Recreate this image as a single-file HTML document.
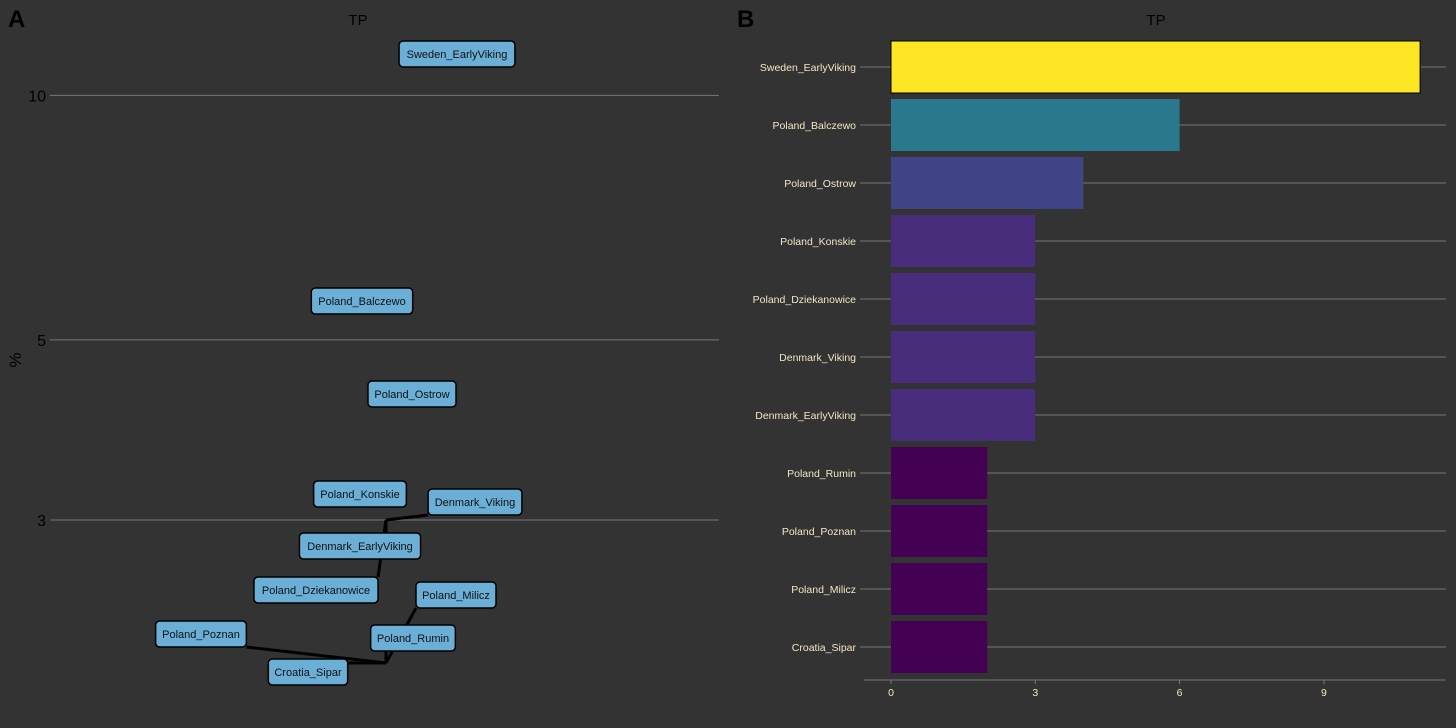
<!DOCTYPE html>
<html><head><meta charset="utf-8">
<style>
body{margin:0;background:#333333;}
svg{display:block;font-family:"Liberation Sans",sans-serif;}
</style></head>
<body>
<svg id="chart" width="1456" height="728" viewBox="0 0 1456 728">
<rect x="0" y="0" width="1456" height="728" fill="#333333"/>
<text x="8" y="27" font-size="24" font-weight="bold" fill="#000">A</text>
<text x="737" y="27" font-size="24" font-weight="bold" fill="#000">B</text>
<text x="358" y="25" font-size="15" text-anchor="middle" fill="#000">TP</text>
<text x="1156" y="25" font-size="15" text-anchor="middle" fill="#000">TP</text>
<text transform="translate(21,360) rotate(-90)" font-size="17" text-anchor="middle" fill="#000">%</text>
<g id="pa"></g>
<g id="pb"></g>
</svg>
<script>
const categories=["Sweden_EarlyViking","Poland_Balczewo","Poland_Ostrow","Poland_Konskie","Poland_Dziekanowice","Denmark_Viking","Denmark_EarlyViking","Poland_Rumin","Poland_Poznan","Poland_Milicz","Croatia_Sipar"];
const values=[11,6,4,3,3,3,3,2,2,2,2];
const aTicks=[3,5,10];
const bTicks=[0,3,6,9];
// label box centers from repel layout (panel A)
const labelCx=[457,362,412,360,316,475,360,413,201,456,308];
const labelCy=[54,301,394,494,590,502,546,638,634,595,672];
const showSeg=[0,0,0,0,1,1,1,1,1,1,1];

const NS="http://www.w3.org/2000/svg";
function mk(tag,attrs,parent){const e=document.createElementNS(NS,tag);for(const k in attrs)e.setAttribute(k,attrs[k]);parent.appendChild(e);return e;}
const pa=document.getElementById('pa'),pb=document.getElementById('pb');

const yA=v=>520-(Math.log10(v)-Math.log10(3))*812;
const pointX=386;
aTicks.forEach(t=>{
  const l=mk('line',{x1:50,x2:719,y1:yA(t),y2:yA(t),stroke:'#777','stroke-width':1},pa);
  
  
  const tx=mk('text',{x:46,y:yA(t)+6,'font-size':16,'text-anchor':'end',fill:'#000'},pa);
  tx.textContent=t;
  
  
});
const ctx=document.createElement('canvas').getContext('2d');ctx.font='12px "Liberation Sans"';
const boxes=categories.map((c,i)=>{const w=ctx.measureText(c).width+6;return {x:labelCx[i]-w/2,y:labelCy[i]-13,w:w,h:26};});
categories.forEach((c,i)=>{
  if(!showSeg[i])return;
  const py=yA(values[i]),b=boxes[i];
  const ex=Math.max(b.x,Math.min(pointX,b.x+b.w)),ey=Math.max(b.y,Math.min(py,b.y+b.h));
  const s=mk('line',{x1:pointX,y1:py,x2:ex,y2:ey,stroke:'#000','stroke-width':3},pa);
  
  
});
categories.forEach((c,i)=>{
  const b=boxes[i];
  const g=mk('g',{},pa);
  
  
  mk('rect',{x:b.x,y:b.y,width:b.w,height:b.h,rx:4,fill:'#6baed6',stroke:'#000','stroke-width':1.5},g);
  const t=mk('text',{x:labelCx[i],y:labelCy[i]+4,'font-size':11,'text-anchor':'middle',fill:'#111'},g);
  t.textContent=c;
});

const x0=891,pxPer=48.1;
const xB=v=>x0+v*pxPer;
const rowY=i=>67+i*58;
const vir=[[0,'#440154'],[0.11,'#472d7b'],[0.22,'#414487'],[0.44,'#2a788e'],[1,'#fde725']];
function col(v){const f=(v-2)/9;let best=vir[0][1],d=9;vir.forEach(s=>{if(Math.abs(s[0]-f)<d){d=Math.abs(s[0]-f);best=s[1];}});return best;}
categories.forEach((c,i)=>{
  const y=rowY(i);
  const gl=mk('line',{x1:860,x2:1446,y1:y,y2:y,stroke:'#777','stroke-width':1},pb);
  
  
  const r=mk('rect',{x:xB(0),y:y-26,width:xB(values[i])-xB(0),height:52,fill:col(values[i]),stroke:values[i]==11?'#000':'none','stroke-width':1},pb);
  
  
  const t=mk('text',{x:856,y:y+4,'font-size':10.5,'text-anchor':'end',fill:'#f3e6c4'},pb);
  t.textContent=c;
  
  
});
const ax=mk('line',{x1:864,x2:1446,y1:680,y2:680,stroke:'#777','stroke-width':1},pb);


bTicks.forEach(t=>{
  mk('line',{x1:xB(t),x2:xB(t),y1:680,y2:684,stroke:'#777'},pb);
  const tx=mk('text',{x:xB(t),y:696,'font-size':10.5,'text-anchor':'middle',fill:'#f3e6c4'},pb);
  tx.textContent=t;
  
  
});
</script>
</body></html>
